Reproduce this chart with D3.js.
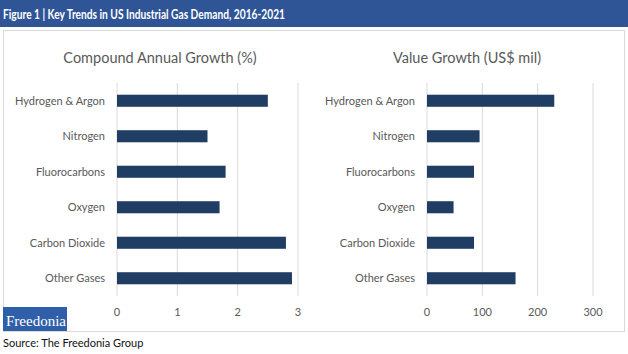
<!DOCTYPE html>
<html>
<head>
<meta charset="utf-8">
<script src="https://cdn.jsdelivr.net/npm/d3@7"></script>
<style>
  body { margin: 0; background: #fff; }
  svg { display: block; font-family: Lato, "Open Sans", sans-serif; }
</style>
</head>
<body>
<svg id="chart" width="628" height="354"></svg>
<script>
// data
const categories = ["Hydrogen & Argon", "Nitrogen", "Fluorocarbons", "Oxygen", "Carbon Dioxide", "Other Gases"]
const cagrValues = [2.5, 1.5, 1.8, 1.7, 2.8, 2.9]
const valueGrowth = [230, 95, 85, 48, 85, 160]
const cagrTicks = [0, 1, 2, 3]
const valueTicks = [0, 100, 200, 300]

const svg = d3.select("#chart")

// header bar
svg.append("rect").attr("x", 0).attr("y", 0).attr("width", 628).attr("height", 27).attr("fill", "#2f5597")
svg.append("text")
  .attr("x", 3).attr("y", 19)
  .attr("fill", "#fff").attr("font-weight", "bold").attr("font-size", "12.5px")
  .attr("textLength", 282).attr("lengthAdjust", "spacingAndGlyphs")
  .text("Figure 1 | Key Trends in US Industrial Gas Demand, 2016-2021")

// frame
svg.append("rect").attr("x", 3.5).attr("y", 30.5).attr("width", 621).attr("height", 301)
  .attr("fill", "none").attr("stroke", "#d9d9d9")

const plotTop = 83, plotBottom = 296

function panel(values, ticks, title, x0, x1, labelX, titleX) {
  let x = d3.scaleLinear().domain([ticks[0], ticks[ticks.length - 1]]).range([x0, x1])
  let y = d3.scaleBand().domain(categories).range([plotTop, plotBottom]).paddingInner(0.66).paddingOuter(0.33)

  let g = svg.append("g")

  g.append("text")
    .attr("x", titleX).attr("y", 63)
    .attr("text-anchor", "middle").attr("font-size", "14.5px").attr("fill", "#595959")
    .text(title)

  g.selectAll(".grid")
    .data(ticks)
    .join("line")
    .attr("x1", d => x(d)).attr("x2", d => x(d))
    .attr("y1", plotTop).attr("y2", plotBottom)
    .attr("stroke", "#d9d9d9")

  g.selectAll(".tick")
    .data(ticks)
    .join("text")
    .attr("x", d => x(d)).attr("y", 316)
    .attr("text-anchor", "middle").attr("font-size", "11px").attr("fill", "#595959")
    .text(d => d)

  g.selectAll(".bar")
    .data(values)
    .join("rect")
    .attr("x", x(0))
    .attr("y", (d, i) => y(categories[i]))
    .attr("width", d => x(d) - x(0))
    .attr("height", y.bandwidth())
    .attr("fill", "#203e64")

  g.selectAll(".cat")
    .data(categories)
    .join("text")
    .attr("x", labelX)
    .attr("y", d => y(d) + y.bandwidth() / 2 + 4)
    .attr("text-anchor", "end").attr("font-size", "11px").attr("fill", "#595959")
    .text(d => d)
}

panel(cagrValues, cagrTicks, "Compound Annual Growth (%)", 117, 298, 105, 160)
panel(valueGrowth, valueTicks, "Value Growth (US$ mil)", 427, 593, 415, 467)

// logo
svg.append("rect").attr("x", 3).attr("y", 307).attr("width", 64).attr("height", 24).attr("fill", "#2f5fa8")
svg.append("text")
  .attr("x", 6).attr("y", 326)
  .attr("fill", "#fff").attr("font-family", "'Liberation Serif', serif").attr("font-size", "15px")
  .text("Freedonia")

svg.append("text")
  .attr("x", 3).attr("y", 347)
  .attr("fill", "#111").attr("font-size", "11px")
  .text("Source: The Freedonia Group")
</script>
</body>
</html>
